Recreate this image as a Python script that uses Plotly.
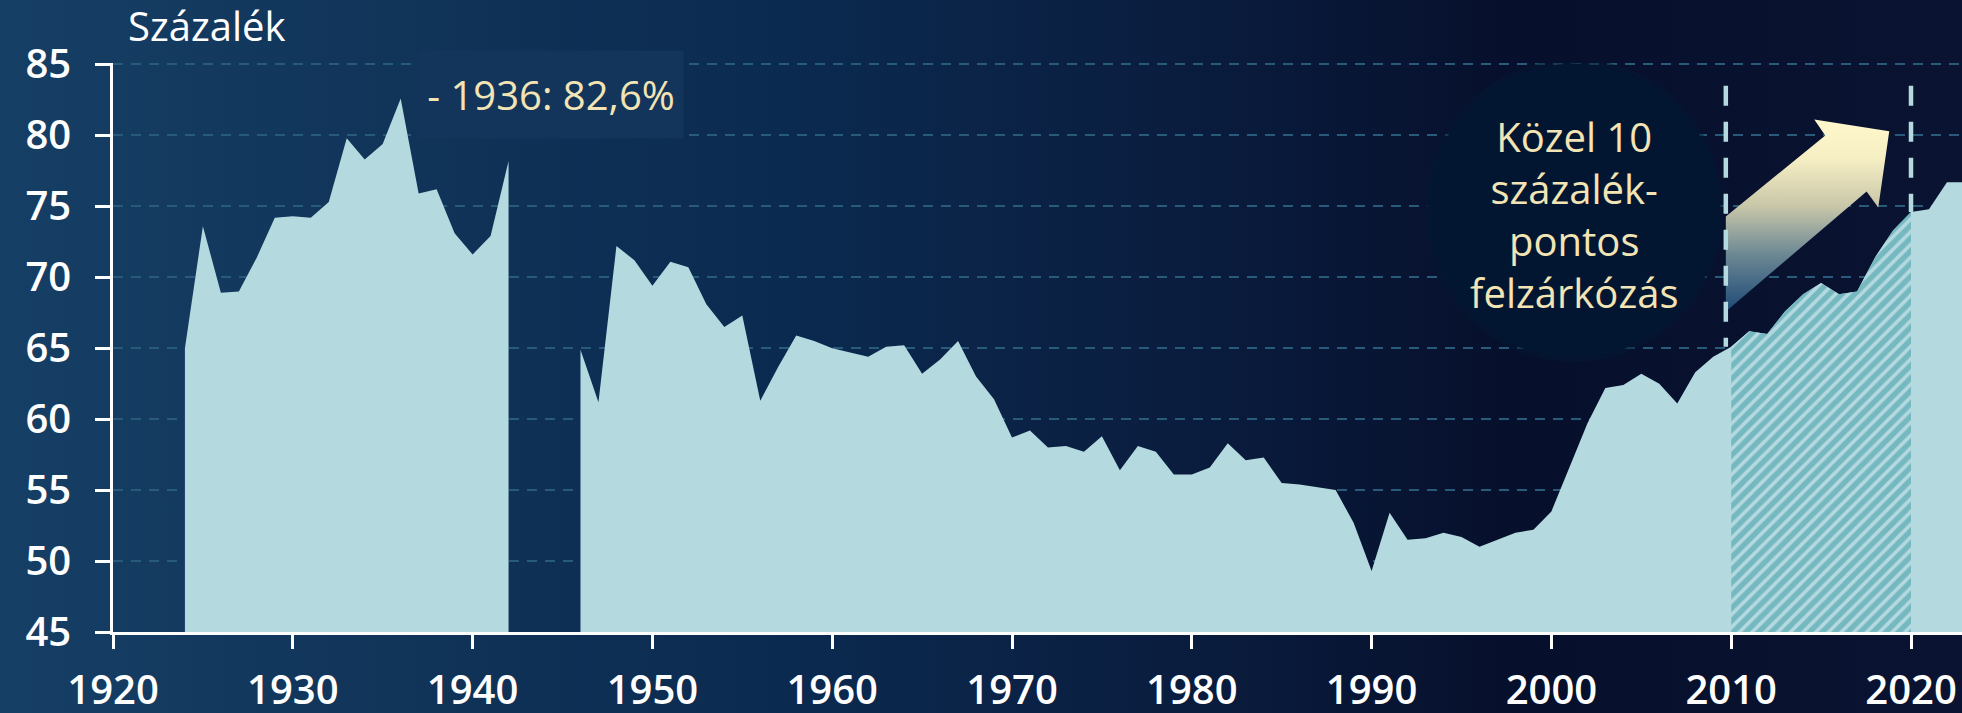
import base64
import plotly.graph_objects as go

# ---------------- data ----------------
years = list(range(1924, 2024))
values = [
    65.0, 73.6, 68.9, 69.0, 71.4, 74.2, 74.3, 74.2, 75.3, 79.8,   # 1924-1933
    78.3, 79.4, 82.6, 75.9, 76.2, 73.1, 71.6, 72.9, 78.2,         # 1934-1942
    None, None, None,                                             # 1943-1945
    64.9, 61.2, 72.2, 71.2, 69.4, 71.1, 70.7, 68.1, 66.5, 67.3,   # 1946-1955
    61.3, 63.7, 65.9, 65.5, 65.0, 64.7, 64.4, 65.1, 65.2, 63.2,   # 1956-1965
    64.2, 65.5, 63.0, 61.4, 58.7, 59.2, 58.0, 58.1, 57.7, 58.8,   # 1966-1975
    56.4, 58.1, 57.7, 56.1, 56.1, 56.6, 58.3, 57.1, 57.3, 55.5,   # 1976-1985
    55.4, 55.2, 55.0, 52.7, 49.3, 53.4, 51.5, 51.6, 52.0, 51.7,   # 1986-1995
    51.0, 51.5, 52.0, 52.2, 53.5, 56.6, 59.7, 62.2, 62.4, 63.2,   # 1996-2005
    62.5, 61.1, 63.3, 64.4, 65.1, 66.2, 66.0, 67.6, 68.8, 69.6,   # 2006-2015
    68.8, 69.0, 71.4, 73.3, 74.6, 74.8, 76.7, 76.7,               # 2016-2023
]
hatch_start, hatch_end = 2010, 2020
x_ticks = list(range(1920, 2021, 10))
y_ticks = list(range(45, 86, 5))

peak_label = "- 1936: 82,6%"
catchup_label = "Közel 10<br>százalék-<br>pontos<br>felzárkózás"
unit_label = "Százalék"

# arrow decoration (year, percent)
arrow_x = [2009.7, 2017.53, 2018.18, 2018.79, 2014.62, 2015.23, 2009.7, 2009.7]
arrow_y = [67.58, 76.05, 74.92, 80.29, 81.12, 79.99, 74.29, 67.58]

# ---------------- geometry / style ----------------
W, H = 1962, 713
L, T, B, R = 113, 63, 81, 0
PW, PH = W - L - R, H - T - B
X_MIN, X_MAX = 1920, 1920 + PW / 17.98
Y_MIN, Y_MAX = 45, 85.1
FONT = "Open Sans"
CREAM = "#f2e4b4"
FILL = "#b4dae0"


def px_to_paper_x(px):
    return (px - L) / PW


def px_to_paper_y(py):
    return (H - B - py) / PH


# background gradient image
stops = [(0, "#163f65"), (0.2, "#113459"), (0.4, "#0b2a50"), (0.6, "#0a1d3f"),
         (0.78, "#060f2b"), (1, "#0a1432")]
svg = ("<svg xmlns='http://www.w3.org/2000/svg' width='200' height='100' viewBox='0 0 200 100' "
       "preserveAspectRatio='none'><defs><linearGradient id='g' x1='0' y1='0' x2='1' y2='0'>"
       + "".join(f"<stop offset='{o}' stop-color='{c}'/>" for o, c in stops)
       + "</linearGradient></defs><rect width='200' height='100' fill='url(#g)'/></svg>")
bg_src = "data:image/svg+xml;base64," + base64.b64encode(svg.encode()).decode()

fig = go.Figure()

# split the series into continuous segments (gap during the war years)
segments, cur = [], []
for yr, v in zip(years, values):
    if v is None:
        if cur:
            segments.append(cur)
        cur = []
    else:
        cur.append((yr, v))
if cur:
    segments.append(cur)

for seg in segments:
    fig.add_trace(go.Scatter(
        x=[p[0] for p in seg], y=[p[1] for p in seg], mode="lines",
        line=dict(width=0, color=FILL), fill="tozeroy", fillcolor=FILL,
        hoverinfo="skip", showlegend=False))

hx = [y for y in years if hatch_start <= y <= hatch_end]
hy = [v for y, v in zip(years, values) if hatch_start <= y <= hatch_end]
fig.add_trace(go.Scatter(
    x=hx, y=hy, mode="lines", line=dict(width=0, color=FILL),
    fill="tozeroy",
    fillpattern=dict(shape="/", fgcolor="#3895a0", bgcolor=FILL, size=9, solidity=0.6),
    hoverinfo="skip", showlegend=False))

fig.add_trace(go.Scatter(
    x=arrow_x, y=arrow_y, mode="lines", line=dict(width=0),
    fill="toself",
    fillgradient=dict(type="vertical",
                      colorscale=[[0, "#1d4a76"], [0.3, "#6d8894"], [0.55, "#c9c7a9"],
                                  [0.8, "#f7efc4"], [1, "#fff8cc"]]),
    hoverinfo="skip", showlegend=False))

val = dict(zip(years, values))
shapes = [
    dict(type="circle", xref="x", yref="y", x0=1992.95, x1=2009.57, y0=64.0, y1=85.4,
         fillcolor="#031733", opacity=0.5, line=dict(width=0), layer="above"),
    dict(type="circle", xref="x", yref="y", x0=1993.10, x1=2009.41, y0=64.34, y1=85.04,
         fillcolor="#021631", line=dict(width=0), layer="above"),
]
for xv, yb in [(2009.7, val[2010]), (2020, val[2020])]:
    shapes.append(dict(type="line", xref="x", yref="y", x0=xv, x1=xv, y0=83.5, y1=yb,
                       line=dict(color=FILL, width=4.5, dash="20px,16px"), layer="above"))

annotations = [
    dict(text=peak_label, x=1944.36, y=82.86, xref="x", yref="y", showarrow=False,
         font=dict(family=FONT, size=40, color=CREAM), bgcolor="#13355b",
         width=262, height=85, align="center"),
    dict(text=catchup_label, x=2001.26, y=74.4, xref="x", yref="y", showarrow=False,
         font=dict(family=FONT, size=40, color=CREAM), align="center"),
    dict(text=unit_label, x=px_to_paper_x(126), y=px_to_paper_y(26), xref="paper", yref="paper",
         xanchor="left", yanchor="middle", showarrow=False,
         font=dict(family=FONT, size=40, color="white")),
]

fig.update_layout(
    width=W, height=H, margin=dict(l=L, r=R, t=T, b=B, pad=0, autoexpand=False),
    paper_bgcolor="#0b2145", plot_bgcolor="rgba(0,0,0,0)",
    images=[dict(source=bg_src, xref="paper", yref="paper",
                 x=px_to_paper_x(0), y=px_to_paper_y(0),
                 sizex=W / PW, sizey=H / PH, sizing="stretch",
                 xanchor="left", yanchor="top", layer="below")],
    shapes=shapes, annotations=annotations, showlegend=False,
    xaxis=dict(range=[X_MIN, X_MAX], tickvals=x_ticks, showgrid=False, zeroline=False,
               automargin=False,
               showline=True, linecolor="white", linewidth=2.5,
               ticks="outside", ticklen=14, tickwidth=2.5, tickcolor="white",
               ticklabelstandoff=7,
               tickfont=dict(family=FONT, size=40, color="white", weight=600)),
    yaxis=dict(range=[Y_MIN, Y_MAX], tickvals=y_ticks, showgrid=True, gridcolor="#285a79",
               gridwidth=2, griddash="10px,8px", zeroline=False, automargin=False,
               showline=True, linecolor="white", linewidth=2.5,
               ticks="outside", ticklen=15, tickwidth=2.5, tickcolor="white",
               ticklabelstandoff=16,
               tickfont=dict(family=FONT, size=40, color="white", weight=600)),
)

fig.write_html(
    "out.html",
    config={"displayModeBar": False},
    post_script=("document.body.style.margin='0';document.body.style.padding='0';"
                 "document.body.style.overflow='hidden';"
                 "document.body.style.background='#0b1d3c';"),
)
